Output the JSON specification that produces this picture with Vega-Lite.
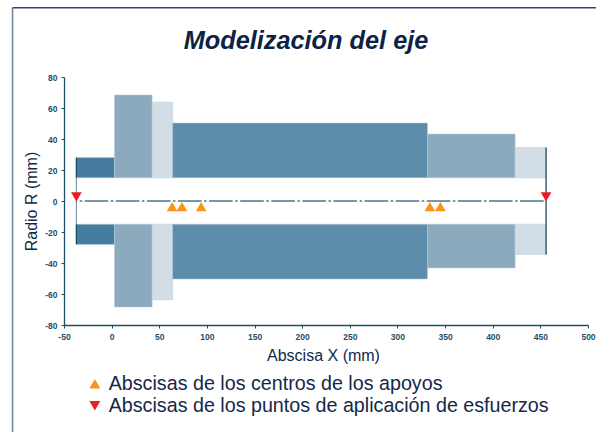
{"$schema":"https://vega.github.io/schema/vega-lite/v6.json","width":524,"height":248,"autosize":"none","padding":{"left":64,"top":77,"right":8,"bottom":107},"background":"white","view":{"stroke":null},
"title":{"text":"Modelización del eje","font":"Liberation Sans","fontSize":25.3,"fontWeight":"bold","fontStyle":"italic","color":"#0c2344","anchor":"middle","dx":-20,"offset":-47},
"config":{"axis":{"grid":false,"domainColor":"#1c5069","domainWidth":1.3,"tickColor":"#1c5069","tickSize":3,"tickWidth":1,"labelFont":"Liberation Sans","labelFontSize":8.5,"labelFontWeight":"bold","labelColor":"#234e68","titleFont":"Liberation Sans","titleFontSize":16,"titleFontWeight":"normal","titleColor":"#0f2a4a"}},
"layer":[
{"data":{"values":[{"x":-104,"x2":-104,"y":124.7,"y2":-150}]},"mark":{"type":"rule","clip":false,"color":"#6f8299","strokeWidth":1.5},
"encoding":{"x":{"field":"x","type":"quantitative","scale":{"domain":[-50,500],"nice":false},"axis":{"values":[-50,0,50,100,150,200,250,300,350,400,450,500],"tickCount":20,"title":"Abscisa X (mm)","titleX":259,"titlePadding":7,"labelPadding":4,"labelFlush":false,"labelOverlap":false,"labelExpr":"replace(datum.label,'−','-')"}},"x2":{"field":"x2"},"y":{"field":"y","type":"quantitative","scale":{"domain":[-80,80],"nice":false},"axis":{"values":[-80,-60,-40,-20,0,20,40,60,80],"tickCount":20,"title":"Radio R (mm)","titlePadding":5,"labelPadding":4,"labelOverlap":false,"labelExpr":"replace(datum.label,'−','-')"}},"y2":{"field":"y2"}}},
{"data":{"values":[{"x":-104,"x2":540,"y":124.7}]},"mark":{"type":"rule","clip":false,"color":"#2f4a68","strokeWidth":1.5},"encoding":{"x":{"field":"x","type":"quantitative"},"x2":{"field":"x2"},"y":{"field":"y","type":"quantitative"}}},
{"data":{"values":[
{"tramo":"A","x":-37,"x2":3,"r":28,"r2":15},{"tramo":"A","x":-37,"x2":3,"r":-15,"r2":-28},
{"tramo":"B","x":3,"x2":42.5,"r":68.4,"r2":15},{"tramo":"B","x":3,"x2":42.5,"r":-15,"r2":-68.4},
{"tramo":"C","x":42.5,"x2":64,"r":63.7,"r2":15},{"tramo":"C","x":42.5,"x2":64,"r":-15,"r2":-63.7},
{"tramo":"D","x":64,"x2":331.5,"r":50.3,"r2":15},{"tramo":"D","x":64,"x2":331.5,"r":-15,"r2":-50.3},
{"tramo":"B","x":331.5,"x2":423.5,"r":43.2,"r2":15},{"tramo":"B","x":331.5,"x2":423.5,"r":-15,"r2":-43.2},
{"tramo":"C","x":423.5,"x2":456,"r":34.5,"r2":15},{"tramo":"C","x":423.5,"x2":456,"r":-15,"r2":-34.5}]},
"mark":{"type":"rect","stroke":"#b4c8d6","strokeWidth":0.5},
"encoding":{"x":{"field":"x","type":"quantitative"},"x2":{"field":"x2"},"y":{"field":"r","type":"quantitative"},"y2":{"field":"r2"},"fill":{"field":"tramo","type":"nominal","legend":null,"scale":{"domain":["A","B","C","D"],"range":["#467c9e","#8caabe","#d3dde6","#5c8dab"]}}}},
{"data":{"values":[{"x":-37,"r":15,"r2":-15}]},"mark":{"type":"rule","color":"#7d99ab","strokeWidth":1.2},"encoding":{"x":{"field":"x","type":"quantitative"},"y":{"field":"r","type":"quantitative"},"y2":{"field":"r2"}}},
{"data":{"values":[{"x":-37,"r":28,"r2":15},{"x":-37,"r":-15,"r2":-28},{"x":456,"r":34.5,"r2":-34.5}]},"mark":{"type":"rule","color":"#1c4a60","strokeWidth":1.3},"encoding":{"x":{"field":"x","type":"quantitative"},"y":{"field":"r","type":"quantitative"},"y2":{"field":"r2"}}},
{"data":{"values":[{"x":-37,"r":0},{"x":456,"r":0}]},"mark":{"type":"line","color":"#4f7488","strokeWidth":1.5,"strokeDash":[23.6,2.5,2.5,2.5],"strokeDashOffset":22.8},"encoding":{"x":{"field":"x","type":"quantitative"},"y":{"field":"r","type":"quantitative"}}},
{"data":{"values":[
{"serie":"Abscisas de los centros de los apoyos","x":63.5,"r":-3.6},{"serie":"Abscisas de los centros de los apoyos","x":73.8,"r":-3.6},{"serie":"Abscisas de los centros de los apoyos","x":94,"r":-3.6},{"serie":"Abscisas de los centros de los apoyos","x":334,"r":-3.6},{"serie":"Abscisas de los centros de los apoyos","x":345,"r":-3.6},
{"serie":"Abscisas de los puntos de aplicación de esfuerzos","x":-37,"r":2.6},{"serie":"Abscisas de los puntos de aplicación de esfuerzos","x":456,"r":2.6}]},
"mark":{"type":"point","filled":true,"opacity":1,"size":115},
"encoding":{"x":{"field":"x","type":"quantitative"},"y":{"field":"r","type":"quantitative"},
"color":{"field":"serie","type":"nominal","scale":{"domain":["Abscisas de los centros de los apoyos","Abscisas de los puntos de aplicación de esfuerzos"],"range":["#f7941d","#ed1c24"]},"legend":{"title":null,"orient":"none","legendX":21,"legendY":297,"labelFont":"Liberation Sans","labelFontSize":19.7,"labelColor":"#14284a","labelLimit":600,"symbolSize":120,"rowPadding":1,"labelOffset":4,"symbolOpacity":1}},
"shape":{"field":"serie","type":"nominal","scale":{"domain":["Abscisas de los centros de los apoyos","Abscisas de los puntos de aplicación de esfuerzos"],"range":["triangle-up","triangle-down"]}}}}
]}
